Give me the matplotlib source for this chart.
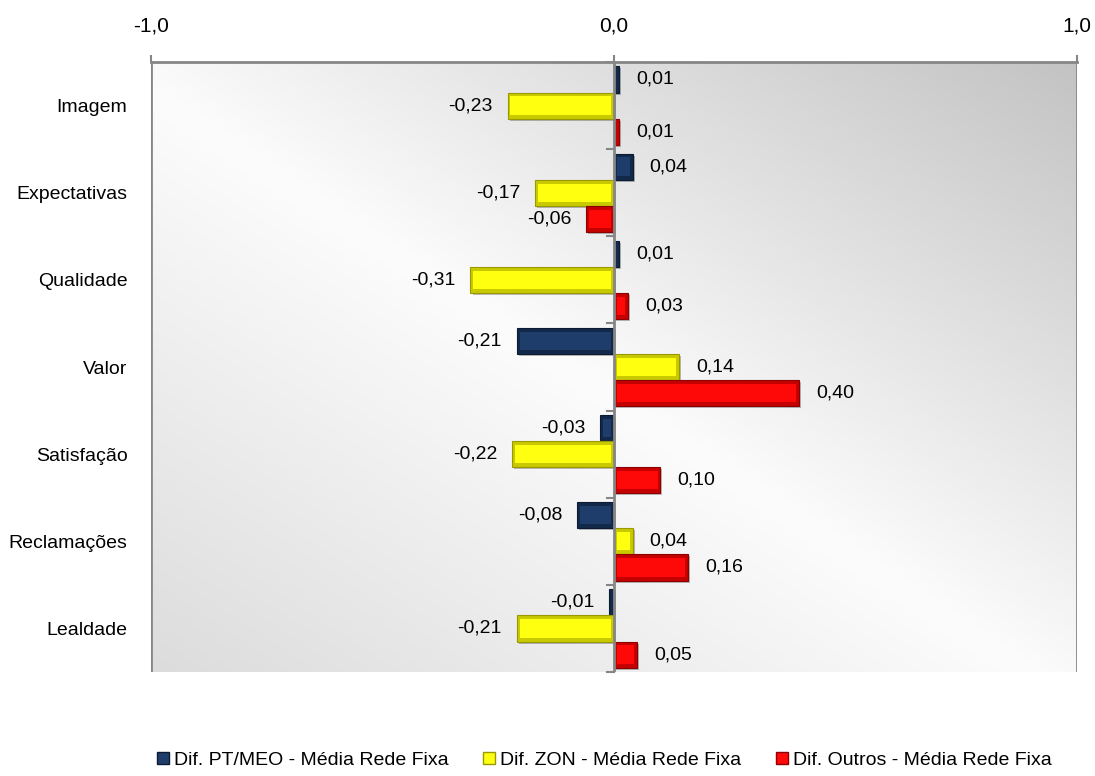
import numpy as np
import matplotlib
matplotlib.use("Agg")
import matplotlib.pyplot as plt
import matplotlib.patheffects as pe
from matplotlib.lines import Line2D

plt.rcParams['font.family'] = ['Liberation Sans', 'DejaVu Sans']

categories = ["Imagem", "Expectativas", "Qualidade", "Valor", "Satisfação", "Reclamações", "Lealdade"]
pt_meo = [0.01, 0.04, 0.01, -0.21, -0.03, -0.08, -0.01]
zon = [-0.23, -0.17, -0.31, 0.14, -0.22, 0.04, -0.21]
outros = [0.01, -0.06, 0.03, 0.40, 0.10, 0.16, 0.05]
series_names = ["Dif. PT/MEO - Média Rede Fixa", "Dif. ZON - Média Rede Fixa", "Dif. Outros - Média Rede Fixa"]
x_ticks = [-1.0, 0.0, 1.0]
x_ticklabels = ["-1,0", "0,0", "1,0"]

face_colors = ["#1F3D6A", "#FFFF10", "#FF0808"]
bevel_colors = ["#13294A", "#C9C900", "#C40000"]
edge_colors = ["#0C1B33", "#9A9A00", "#8E0000"]

fig = plt.figure(figsize=(10.95, 7.76), dpi=100)
ax = fig.add_axes([151/1095, 1 - 672/776, (1077-151)/1095, (672-62)/776])

# background gradient (diagonal, lightest through the middle)
nx, ny = 400, 300
xs = np.linspace(0, 1, nx)
ys = np.linspace(0, 1, ny)
X, Y = np.meshgrid(xs, ys)
u = X + Y
v = np.where(u <= 0.95, 0xdc + (0xfc - 0xdc) * (u / 0.95), 0xfc - (0xfc - 0xc3) * ((u - 0.95) / 1.05))
v = v / 255.0
img = np.dstack([v, v, v])
ax.imshow(img, extent=[-1, 1, 6.5, -0.5], origin='lower', aspect='auto', zorder=0)

n = len(categories)
y = np.arange(n)
h = 0.3
offsets = [-h, 0, h]
all_series = [pt_meo, zon, outros]
shadow = [pe.withSimplePatchShadow(offset=(1.5, -1.5), shadow_rgbFace='black', alpha=0.25)]
inset = 0.006
for s, (vals, off) in enumerate(zip(all_series, offsets)):
    vals = np.array(vals)
    ax.barh(y + off, vals, height=h, color=bevel_colors[s], edgecolor=edge_colors[s],
            linewidth=0.8, zorder=3, path_effects=shadow)
    inner_w = np.sign(vals) * np.maximum(np.abs(vals) - 2 * inset, 0)
    inner_left = np.sign(vals) * inset
    ax.barh(y + off, inner_w, left=inner_left, height=h * 0.7, color=face_colors[s],
            linewidth=0, zorder=3.5)
    for yy, val in zip(y + off, vals):
        lab = f"{val:.2f}".replace(".", ",")
        if val >= 0:
            ax.text(val + 0.037, yy, lab, ha='left', va='center', fontsize=14, zorder=5)
        else:
            ax.text(val - 0.032, yy, lab, ha='right', va='center', fontsize=14, zorder=5)

ax.set_xlim(-1, 1)
ax.set_ylim(n - 0.5, -0.5)

ax.xaxis.tick_top()
ax.set_xticks(x_ticks)
ax.set_xticklabels(x_ticklabels, fontsize=15)
ax.tick_params(axis='x', direction='out', length=5, width=1.5, color='#868686', pad=14)

ax.set_yticks(y)
ax.set_yticklabels(categories, fontsize=14)
ax.tick_params(axis='y', length=0, pad=17)

for sp in ['left', 'right', 'bottom']:
    ax.spines[sp].set_visible(False)
ax.spines['top'].set_color('#868686')
ax.spines['top'].set_linewidth(2)

for xv in [-1, 1]:
    ax.axvline(xv, color='#868686', lw=2, zorder=1)
ax.axvline(0, color='#868686', lw=2, zorder=4)
# category boundary tick marks on the vertical axis
for b in np.arange(n + 1) - 0.5:
    ax.plot([-0.016, 0], [b, b], color='#868686', lw=1.5, zorder=4, clip_on=False)

handles = [Line2D([0], [0], marker='s', linestyle='none', markersize=9,
                  markerfacecolor=face_colors[i], markeredgecolor=edge_colors[i])
           for i in range(3)]
fig.legend(handles, series_names, loc='center', bbox_to_anchor=(0.551, 0.02), ncol=3,
           frameon=False, fontsize=14, handletextpad=0.15, columnspacing=1.7, handlelength=0.8,
           borderpad=0, borderaxespad=0)

fig.savefig("out.png", dpi=100)
